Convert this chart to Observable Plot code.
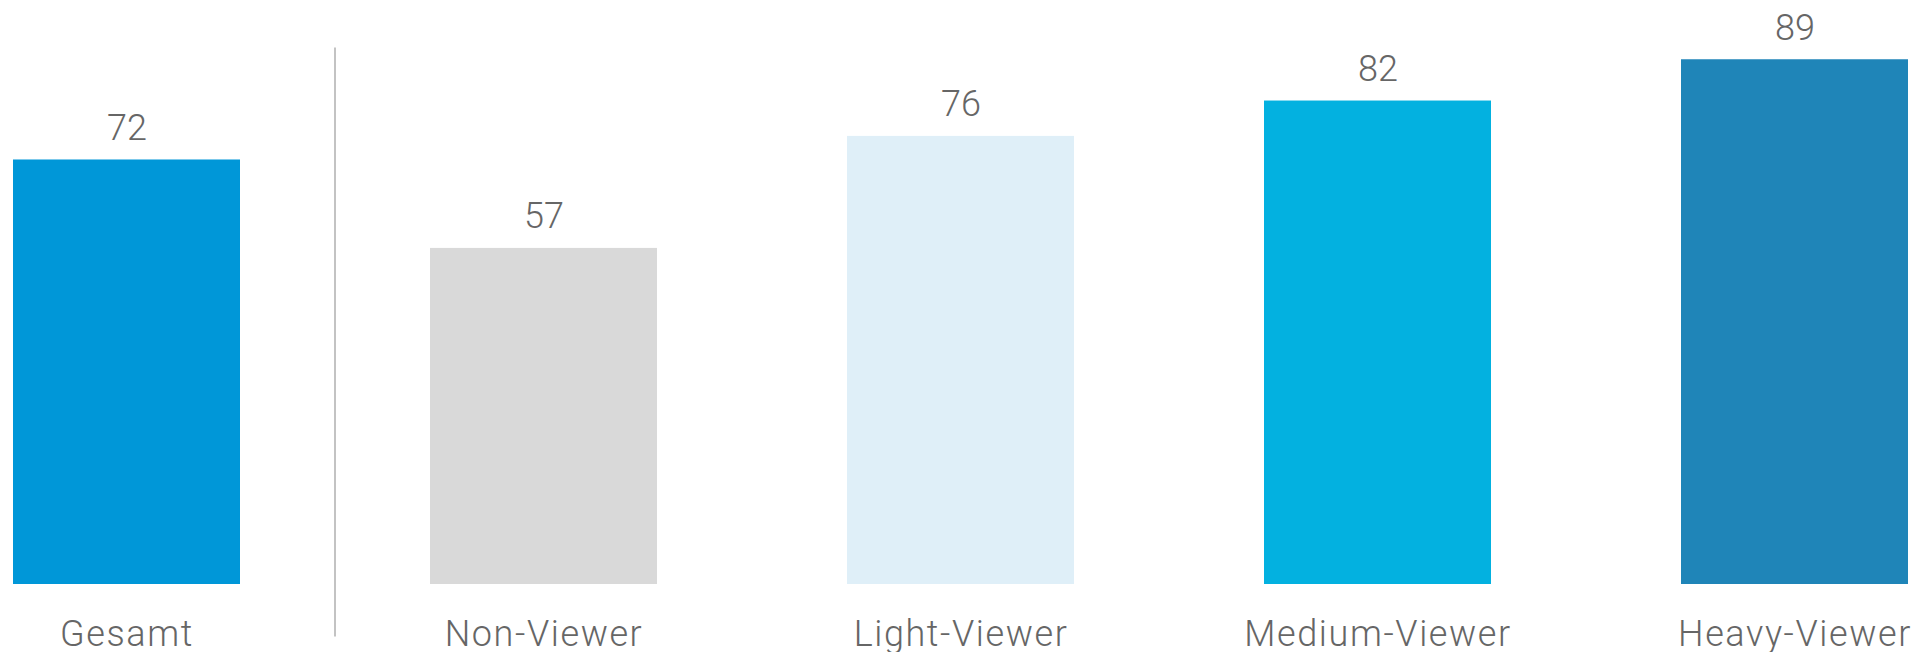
<!DOCTYPE html>
<html>
<head>
<meta charset="utf-8">
<script src="https://cdn.jsdelivr.net/npm/d3@7"></script>
<script src="https://cdn.jsdelivr.net/npm/@observablehq/plot@0.6"></script>
<style>
  html, body { margin: 0; padding: 0; background: #fff; }
  #chart svg { display: block; }
  .cat-label text { letter-spacing: 1.6px; }
</style>
</head>
<body>
<div id="chart"></div>
<script>
const categories = ["Gesamt", "Non-Viewer", "Light-Viewer", "Medium-Viewer", "Heavy-Viewer"];
const values = [72, 57, 76, 82, 89];
const colors = ["#0097d8", "#d9d9d9", "#dfeff8", "#03b1e0", "#1f85b8"];

const data = categories.map((c, i) => ({category: c, value: values[i]}));

const font = "Roboto, 'Noto Sans', sans-serif";
const textColor = "#666666";

const divider = (index, scales) => {
  const x = scales.x;
  let bw = typeof x.bandwidth === "function" ? x.bandwidth() : x.bandwidth;
  if (bw == null) bw = 0;
  const xm = (x(categories[0]) + x(categories[1])) / 2 + bw / 2;
  const line = d3.create("svg:line")
    .attr("x1", xm).attr("x2", xm)
    .attr("y1", scales.y(91)).attr("y2", scales.y(-8.9))
    .attr("stroke", "#aaaaaa")
    .attr("stroke-width", 1.4);
  return line.node();
};

const chart = Plot.plot({
  width: 1924,
  height: 652,
  marginLeft: 12,
  marginRight: 14,
  marginTop: 0,
  marginBottom: 68,
  style: {fontFamily: font, background: "#fff"},
  x: {domain: categories, padding: 0.4545, paddingOuter: 0, axis: null},
  y: {domain: [0, 99.05], axis: null},
  color: {domain: categories, range: colors},
  marks: [
    Plot.barY(data, {x: "category", y: "value", fill: "category"}),
    Plot.text(data, {
      x: "category", y: "value", text: d => String(d.value),
      dy: -20, lineAnchor: "bottom", fontSize: 36, fontWeight: 300, fill: textColor
    }),
    Plot.text(data, {
      x: "category", y: () => 0, text: "category", className: "cat-label",
      dy: 61, lineAnchor: "bottom", fontSize: 36, fontWeight: 300, fill: textColor
    }),
    divider
  ]
});

document.getElementById("chart").appendChild(chart);
</script>
</body>
</html>
